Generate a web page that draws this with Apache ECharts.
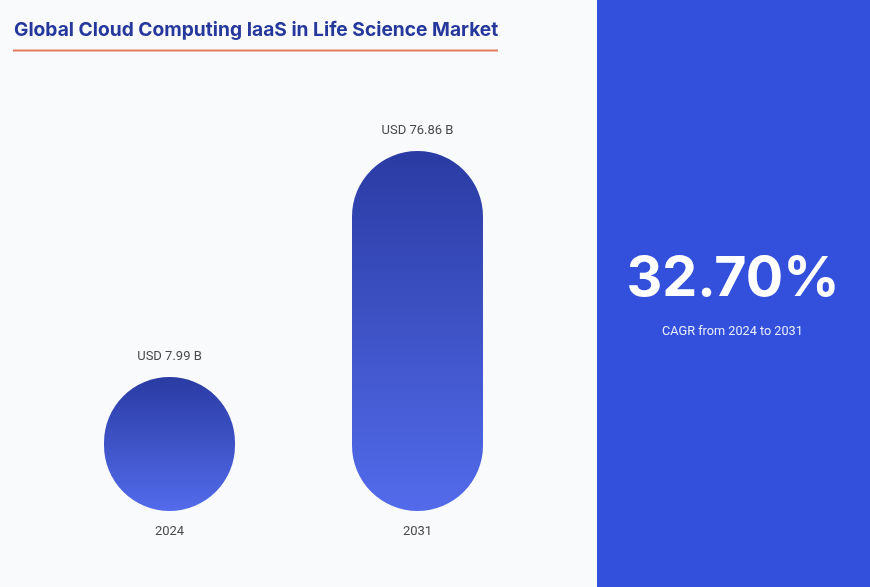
<!DOCTYPE html>
<html>
<head>
<meta charset="utf-8">
<style>
  html, body { margin: 0; padding: 0; background: #f8fafc; }
  #chart { width: 870px; height: 587px; }
</style>
<script src="https://cdn.jsdelivr.net/npm/echarts@6/dist/echarts.min.js"></script>
</head>
<body>
<div id="chart"></div>
<script>
var years = ['2024', '2031'];
var marketSize = [7.99, 76.86];
var sizeLabels = ['USD 7.99 B', 'USD 76.86 B'];
var cagrText = '32.70%';
var cagrNote = 'CAGR from 2024 to 2031';
var titleText = 'Global Cloud Computing IaaS in Life Science Market';

var chart = echarts.init(document.getElementById('chart'));
chart.setOption({
  animation: false,
  backgroundColor: '#f8fafc',
  title: [
    {
      text: titleText, left: 14, top: 21, padding: 0,
      textStyle: { fontFamily: 'Inter', fontWeight: 700, fontSize: 19.2, color: '#26389b' }
    },
    {
      text: cagrText, left: 733, top: 251, padding: 0, textAlign: 'center',
      textStyle: { fontFamily: 'Inter', fontWeight: 700, fontSize: 55.5, color: '#ffffff' }
    },
    {
      text: cagrNote, left: 732.5, top: 325, padding: 0, textAlign: 'center',
      textStyle: { fontFamily: 'Roboto', fontWeight: 400, fontSize: 12.7, color: '#e8ecfb' }
    }
  ],
  graphic: [
    { type: 'rect', z: -1, shape: { x: 597, y: 0, width: 273, height: 587 }, style: { fill: '#3350dc' } },
    { type: 'rect', shape: { x: 13, y: 49.5, width: 485, height: 2 }, style: { fill: '#e57c60' } }
  ],
  grid: { left: 45.5, right: 328.5, top: 151, bottom: 76 },
  xAxis: {
    type: 'category',
    data: years,
    axisLine: { show: false },
    axisTick: { show: false },
    axisLabel: { margin: 14, fontFamily: 'Roboto', fontSize: 13, color: '#4a4a4a' }
  },
  yAxis: {
    type: 'log',
    min: 2.09,
    max: 76.86,
    show: false,
    splitLine: { show: false }
  },
  series: [{
    type: 'bar',
    data: marketSize,
    barWidth: 131,
    itemStyle: {
      borderRadius: 65.5,
      color: new echarts.graphic.LinearGradient(0, 0, 0, 1, [
        { offset: 0, color: '#2a3ba3' },
        { offset: 1, color: '#536beb' }
      ])
    },
    label: {
      show: true,
      position: 'top',
      distance: 14,
      fontFamily: 'Roboto',
      fontSize: 13,
      color: '#4a4a4a',
      formatter: function (p) { return sizeLabels[p.dataIndex]; }
    }
  }]
});
</script>
</body>
</html>
